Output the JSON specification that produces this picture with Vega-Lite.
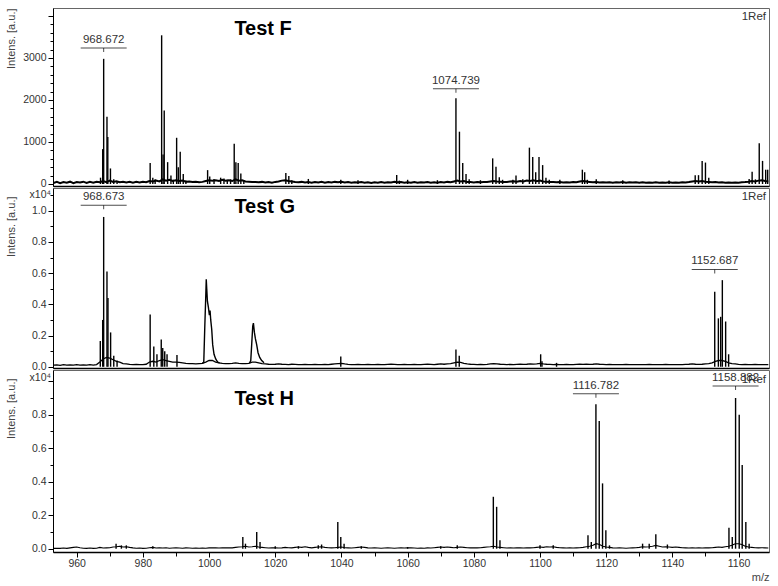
{
"$schema": "https://vega.github.io/schema/vega-lite/v6.json",
"background": "white",
"padding": {"left": 4, "top": 7, "right": 0, "bottom": 0},
"spacing": 2,
"bounds": "flush",
"config": {
  "font": "Liberation Sans",
  "view": {"stroke": "#666", "strokeWidth": 1},
  "axis": {"labelFont": "Liberation Sans", "labelFontSize": 10.5, "labelColor": "#333", "titleFont": "Liberation Sans", "titleFontSize": 11, "titleFontWeight": "normal", "titleColor": "#444", "domainColor": "#000", "tickColor": "#000", "grid": false, "labelOverlap": false}
},
"datasets": {
  "base": [
{"mz":953,"F":25,"G":0.010,"H":0.002},{"mz":954,"F":50,"G":0.012,"H":0.003},{"mz":955,"F":20,"G":0.009,"H":0.002},{"mz":956,"F":45,"G":0.013,"H":0.004},{"mz":957,"F":30,"G":0.010,"H":0.002},{"mz":958,"F":55,"G":0.012,"H":0.005},{"mz":959,"F":20,"G":0.011,"H":0.008},{"mz":960,"F":45,"G":0.013,"H":0.010},{"mz":961,"F":35,"G":0.010,"H":0.006},{"mz":962,"F":55,"G":0.012,"H":0.003},{"mz":963,"F":25,"G":0.011,"H":0.002},{"mz":964,"F":50,"G":0.013,"H":0.004},{"mz":965,"F":30,"G":0.010,"H":0.002},{"mz":966,"F":55,"G":0.014,"H":0.003},{"mz":967,"F":40,"G":0.030,"H":0.008},{"mz":968,"F":70,"G":0.050,"H":0.004},{"mz":969,"F":45,"G":0.060,"H":0.005},{"mz":970,"F":80,"G":0.055,"H":0.006},{"mz":971,"F":50,"G":0.045,"H":0.010},{"mz":972,"F":65,"G":0.035,"H":0.012},{"mz":973,"F":40,"G":0.030,"H":0.015},{"mz":974,"F":55,"G":0.020,"H":0.010},{"mz":975,"F":35,"G":0.018,"H":0.012},{"mz":976,"F":50,"G":0.015,"H":0.008},{"mz":977,"F":30,"G":0.014,"H":0.005},{"mz":978,"F":50,"G":0.015,"H":0.003},{"mz":979,"F":35,"G":0.013,"H":0.004},{"mz":980,"F":55,"G":0.014,"H":0.002},{"mz":981,"F":40,"G":0.016,"H":0.003},{"mz":982,"F":70,"G":0.030,"H":0.006},{"mz":983,"F":60,"G":0.035,"H":0.008},{"mz":984,"F":80,"G":0.030,"H":0.004},{"mz":985,"F":60,"G":0.040,"H":0.005},{"mz":986,"F":110,"G":0.045,"H":0.004},{"mz":987,"F":80,"G":0.040,"H":0.006},{"mz":988,"F":100,"G":0.035,"H":0.003},{"mz":989,"F":70,"G":0.030,"H":0.004},{"mz":990,"F":90,"G":0.030,"H":0.005},{"mz":991,"F":70,"G":0.028,"H":0.004},{"mz":992,"F":80,"G":0.025,"H":0.003},{"mz":993,"F":55,"G":0.022,"H":0.005},{"mz":994,"F":60,"G":0.020,"H":0.004},{"mz":995,"F":45,"G":0.020,"H":0.003},{"mz":996,"F":55,"G":0.018,"H":0.004},{"mz":997,"F":40,"G":0.020,"H":0.003},{"mz":998,"F":50,"G":0.022,"H":0.004},{"mz":999,"F":70,"G":0.030,"H":0.003},{"mz":1000,"F":90,"G":0.040,"H":0.005},{"mz":1001,"F":80,"G":0.040,"H":0.006},{"mz":1002,"F":90,"G":0.030,"H":0.005},{"mz":1003,"F":70,"G":0.025,"H":0.004},{"mz":1004,"F":100,"G":0.022,"H":0.006},{"mz":1005,"F":80,"G":0.020,"H":0.005},{"mz":1006,"F":90,"G":0.020,"H":0.006},{"mz":1007,"F":70,"G":0.022,"H":0.005},{"mz":1008,"F":110,"G":0.025,"H":0.008},{"mz":1009,"F":80,"G":0.022,"H":0.010},{"mz":1010,"F":90,"G":0.020,"H":0.012},{"mz":1011,"F":60,"G":0.020,"H":0.015},{"mz":1012,"F":55,"G":0.022,"H":0.010},{"mz":1013,"F":45,"G":0.030,"H":0.012},{"mz":1014,"F":50,"G":0.030,"H":0.015},{"mz":1015,"F":40,"G":0.025,"H":0.010},{"mz":1016,"F":50,"G":0.020,"H":0.008},{"mz":1017,"F":35,"G":0.018,"H":0.006},{"mz":1018,"F":45,"G":0.016,"H":0.004},{"mz":1019,"F":30,"G":0.015,"H":0.005},{"mz":1020,"F":50,"G":0.016,"H":0.006},{"mz":1021,"F":60,"G":0.018,"H":0.004},{"mz":1022,"F":80,"G":0.016,"H":0.005},{"mz":1023,"F":90,"G":0.015,"H":0.008},{"mz":1024,"F":70,"G":0.014,"H":0.006},{"mz":1025,"F":60,"G":0.016,"H":0.005},{"mz":1026,"F":45,"G":0.015,"H":0.008},{"mz":1027,"F":40,"G":0.014,"H":0.010},{"mz":1028,"F":50,"G":0.013,"H":0.008},{"mz":1029,"F":35,"G":0.015,"H":0.012},{"mz":1030,"F":45,"G":0.014,"H":0.008},{"mz":1031,"F":30,"G":0.013,"H":0.005},{"mz":1032,"F":45,"G":0.015,"H":0.008},{"mz":1033,"F":35,"G":0.014,"H":0.010},{"mz":1034,"F":50,"G":0.013,"H":0.012},{"mz":1035,"F":30,"G":0.015,"H":0.008},{"mz":1036,"F":45,"G":0.014,"H":0.006},{"mz":1037,"F":35,"G":0.016,"H":0.005},{"mz":1038,"F":50,"G":0.018,"H":0.006},{"mz":1039,"F":40,"G":0.020,"H":0.008},{"mz":1040,"F":55,"G":0.022,"H":0.010},{"mz":1041,"F":35,"G":0.018,"H":0.006},{"mz":1042,"F":45,"G":0.015,"H":0.005},{"mz":1043,"F":30,"G":0.014,"H":0.004},{"mz":1044,"F":40,"G":0.013,"H":0.006},{"mz":1045,"F":35,"G":0.015,"H":0.008},{"mz":1046,"F":45,"G":0.014,"H":0.010},{"mz":1047,"F":30,"G":0.013,"H":0.008},{"mz":1048,"F":40,"G":0.015,"H":0.005},{"mz":1049,"F":25,"G":0.014,"H":0.004},{"mz":1050,"F":40,"G":0.013,"H":0.005},{"mz":1051,"F":30,"G":0.015,"H":0.004},{"mz":1052,"F":45,"G":0.014,"H":0.003},{"mz":1053,"F":30,"G":0.013,"H":0.004},{"mz":1054,"F":40,"G":0.015,"H":0.005},{"mz":1055,"F":35,"G":0.016,"H":0.004},{"mz":1056,"F":50,"G":0.015,"H":0.003},{"mz":1057,"F":40,"G":0.014,"H":0.004},{"mz":1058,"F":45,"G":0.013,"H":0.005},{"mz":1059,"F":30,"G":0.015,"H":0.004},{"mz":1060,"F":40,"G":0.014,"H":0.006},{"mz":1061,"F":30,"G":0.013,"H":0.005},{"mz":1062,"F":45,"G":0.015,"H":0.004},{"mz":1063,"F":30,"G":0.014,"H":0.003},{"mz":1064,"F":40,"G":0.013,"H":0.004},{"mz":1065,"F":35,"G":0.015,"H":0.003},{"mz":1066,"F":45,"G":0.016,"H":0.005},{"mz":1067,"F":30,"G":0.015,"H":0.004},{"mz":1068,"F":40,"G":0.014,"H":0.006},{"mz":1069,"F":30,"G":0.016,"H":0.008},{"mz":1070,"F":45,"G":0.018,"H":0.010},{"mz":1071,"F":35,"G":0.016,"H":0.008},{"mz":1072,"F":50,"G":0.018,"H":0.010},{"mz":1073,"F":40,"G":0.020,"H":0.008},{"mz":1074,"F":60,"G":0.025,"H":0.006},{"mz":1075,"F":80,"G":0.030,"H":0.008},{"mz":1076,"F":60,"G":0.028,"H":0.010},{"mz":1077,"F":70,"G":0.022,"H":0.008},{"mz":1078,"F":50,"G":0.018,"H":0.006},{"mz":1079,"F":45,"G":0.016,"H":0.005},{"mz":1080,"F":35,"G":0.015,"H":0.006},{"mz":1081,"F":45,"G":0.014,"H":0.005},{"mz":1082,"F":40,"G":0.015,"H":0.006},{"mz":1083,"F":50,"G":0.014,"H":0.008},{"mz":1084,"F":45,"G":0.015,"H":0.010},{"mz":1085,"F":60,"G":0.018,"H":0.012},{"mz":1086,"F":70,"G":0.020,"H":0.015},{"mz":1087,"F":60,"G":0.018,"H":0.010},{"mz":1088,"F":55,"G":0.016,"H":0.008},{"mz":1089,"F":45,"G":0.015,"H":0.006},{"mz":1090,"F":50,"G":0.014,"H":0.004},{"mz":1091,"F":60,"G":0.015,"H":0.005},{"mz":1092,"F":65,"G":0.014,"H":0.004},{"mz":1093,"F":55,"G":0.015,"H":0.006},{"mz":1094,"F":70,"G":0.016,"H":0.005},{"mz":1095,"F":60,"G":0.015,"H":0.004},{"mz":1096,"F":80,"G":0.016,"H":0.006},{"mz":1097,"F":70,"G":0.018,"H":0.005},{"mz":1098,"F":90,"G":0.017,"H":0.006},{"mz":1099,"F":65,"G":0.019,"H":0.008},{"mz":1100,"F":80,"G":0.022,"H":0.010},{"mz":1101,"F":60,"G":0.018,"H":0.008},{"mz":1102,"F":55,"G":0.016,"H":0.012},{"mz":1103,"F":45,"G":0.015,"H":0.010},{"mz":1104,"F":50,"G":0.014,"H":0.012},{"mz":1105,"F":40,"G":0.015,"H":0.008},{"mz":1106,"F":45,"G":0.014,"H":0.006},{"mz":1107,"F":35,"G":0.013,"H":0.005},{"mz":1108,"F":40,"G":0.015,"H":0.004},{"mz":1109,"F":35,"G":0.014,"H":0.005},{"mz":1110,"F":45,"G":0.013,"H":0.004},{"mz":1111,"F":40,"G":0.015,"H":0.005},{"mz":1112,"F":60,"G":0.016,"H":0.006},{"mz":1113,"F":70,"G":0.015,"H":0.008},{"mz":1114,"F":60,"G":0.016,"H":0.012},{"mz":1115,"F":50,"G":0.015,"H":0.015},{"mz":1116,"F":40,"G":0.016,"H":0.020},{"mz":1117,"F":45,"G":0.018,"H":0.030},{"mz":1118,"F":35,"G":0.016,"H":0.025},{"mz":1119,"F":40,"G":0.015,"H":0.015},{"mz":1120,"F":35,"G":0.014,"H":0.010},{"mz":1121,"F":40,"G":0.015,"H":0.008},{"mz":1122,"F":30,"G":0.014,"H":0.005},{"mz":1123,"F":40,"G":0.013,"H":0.004},{"mz":1124,"F":35,"G":0.014,"H":0.005},{"mz":1125,"F":45,"G":0.013,"H":0.004},{"mz":1126,"F":30,"G":0.015,"H":0.003},{"mz":1127,"F":40,"G":0.014,"H":0.004},{"mz":1128,"F":35,"G":0.013,"H":0.005},{"mz":1129,"F":40,"G":0.014,"H":0.006},{"mz":1130,"F":30,"G":0.013,"H":0.008},{"mz":1131,"F":40,"G":0.014,"H":0.012},{"mz":1132,"F":30,"G":0.013,"H":0.010},{"mz":1133,"F":35,"G":0.015,"H":0.012},{"mz":1134,"F":30,"G":0.014,"H":0.015},{"mz":1135,"F":40,"G":0.013,"H":0.020},{"mz":1136,"F":30,"G":0.014,"H":0.015},{"mz":1137,"F":35,"G":0.013,"H":0.010},{"mz":1138,"F":30,"G":0.015,"H":0.012},{"mz":1139,"F":40,"G":0.014,"H":0.010},{"mz":1140,"F":30,"G":0.013,"H":0.008},{"mz":1141,"F":35,"G":0.014,"H":0.010},{"mz":1142,"F":30,"G":0.013,"H":0.008},{"mz":1143,"F":40,"G":0.014,"H":0.006},{"mz":1144,"F":35,"G":0.015,"H":0.005},{"mz":1145,"F":45,"G":0.016,"H":0.004},{"mz":1146,"F":60,"G":0.018,"H":0.005},{"mz":1147,"F":70,"G":0.016,"H":0.004},{"mz":1148,"F":60,"G":0.015,"H":0.005},{"mz":1149,"F":70,"G":0.016,"H":0.004},{"mz":1150,"F":55,"G":0.018,"H":0.006},{"mz":1151,"F":50,"G":0.020,"H":0.005},{"mz":1152,"F":40,"G":0.025,"H":0.006},{"mz":1153,"F":45,"G":0.035,"H":0.008},{"mz":1154,"F":35,"G":0.040,"H":0.010},{"mz":1155,"F":40,"G":0.040,"H":0.008},{"mz":1156,"F":30,"G":0.035,"H":0.012},{"mz":1157,"F":35,"G":0.025,"H":0.015},{"mz":1158,"F":30,"G":0.020,"H":0.020},{"mz":1159,"F":35,"G":0.018,"H":0.030},{"mz":1160,"F":30,"G":0.015,"H":0.030},{"mz":1161,"F":40,"G":0.014,"H":0.025},{"mz":1162,"F":45,"G":0.015,"H":0.015},{"mz":1163,"F":55,"G":0.014,"H":0.010},{"mz":1164,"F":70,"G":0.013,"H":0.008},{"mz":1165,"F":60,"G":0.015,"H":0.006},{"mz":1166,"F":80,"G":0.014,"H":0.005},{"mz":1167,"F":90,"G":0.013,"H":0.006},{"mz":1168,"F":70,"G":0.014,"H":0.005},{"mz":1169,"F":60,"G":0.013,"H":0.004}
  ],
  "broadG": [
{"g":"a","mz":998.0,"i":0.022},{"g":"a","mz":998.4,"i":0.03},{"g":"a","mz":998.7,"i":0.25},{"g":"a","mz":999.0,"i":0.45},{"g":"a","mz":999.15,"i":0.56},{"g":"a","mz":999.3,"i":0.5},{"g":"a","mz":999.5,"i":0.42},{"g":"a","mz":999.8,"i":0.38},{"g":"a","mz":1000.1,"i":0.33},{"g":"a","mz":1000.3,"i":0.36},{"g":"a","mz":1000.5,"i":0.3},{"g":"a","mz":1000.8,"i":0.24},{"g":"a","mz":1001.1,"i":0.14},{"g":"a","mz":1001.5,"i":0.08},{"g":"a","mz":1002.0,"i":0.05},{"g":"a","mz":1002.6,"i":0.03},{"g":"a","mz":1003.2,"i":0.025},
{"g":"b","mz":1012.2,"i":0.022},{"g":"b","mz":1012.6,"i":0.04},{"g":"b","mz":1012.9,"i":0.15},{"g":"b","mz":1013.2,"i":0.26},{"g":"b","mz":1013.4,"i":0.28},{"g":"b","mz":1013.7,"i":0.22},{"g":"b","mz":1014.0,"i":0.18},{"g":"b","mz":1014.4,"i":0.14},{"g":"b","mz":1014.8,"i":0.09},{"g":"b","mz":1015.3,"i":0.06},{"g":"b","mz":1015.9,"i":0.04},{"g":"b","mz":1016.6,"i":0.025}
  ],
  "peaks": [
{"p":"F","mz":967.2,"i":150},{"p":"F","mz":967.85,"i":830},{"p":"F","mz":968.15,"i":2980},{"p":"F","mz":969.15,"i":1600},{"p":"F","mz":969.4,"i":1120},{"p":"F","mz":970.2,"i":370},{"p":"F","mz":971.2,"i":110},{"p":"F","mz":972.2,"i":60},
{"p":"F","mz":982.2,"i":500},{"p":"F","mz":983.0,"i":150},{"p":"F","mz":983.7,"i":110},{"p":"F","mz":985.67,"i":3540},{"p":"F","mz":986.1,"i":700},{"p":"F","mz":986.45,"i":1750},{"p":"F","mz":987.48,"i":520},{"p":"F","mz":988.48,"i":200},{"p":"F","mz":989.2,"i":100},{"p":"F","mz":990.2,"i":1100},{"p":"F","mz":990.7,"i":400},{"p":"F","mz":991.28,"i":770},{"p":"F","mz":992.2,"i":240},{"p":"F","mz":993.0,"i":80},
{"p":"F","mz":999.56,"i":330},{"p":"F","mz":1000.2,"i":180},{"p":"F","mz":1001.5,"i":120},{"p":"F","mz":1003.5,"i":150},{"p":"F","mz":1004.5,"i":130},{"p":"F","mz":1005.5,"i":100},{"p":"F","mz":1006.5,"i":110},{"p":"F","mz":1007.6,"i":960},{"p":"F","mz":1008.1,"i":520},{"p":"F","mz":1008.8,"i":500},{"p":"F","mz":1009.6,"i":250},{"p":"F","mz":1010.5,"i":80},
{"p":"F","mz":1023.2,"i":260},{"p":"F","mz":1024.1,"i":190},{"p":"F","mz":1025.0,"i":90},{"p":"F","mz":1030.0,"i":120},{"p":"F","mz":1039.8,"i":100},{"p":"F","mz":1045.0,"i":90},{"p":"F","mz":1056.7,"i":215},{"p":"F","mz":1057.5,"i":80},{"p":"F","mz":1060.0,"i":100},{"p":"F","mz":1069.0,"i":90},
{"p":"F","mz":1074.6,"i":2040},{"p":"F","mz":1075.66,"i":1245},{"p":"F","mz":1076.65,"i":500},{"p":"F","mz":1077.65,"i":240},{"p":"F","mz":1078.6,"i":110},{"p":"F","mz":1082.0,"i":90},
{"p":"F","mz":1085.7,"i":610},{"p":"F","mz":1086.7,"i":410},{"p":"F","mz":1087.7,"i":160},{"p":"F","mz":1088.7,"i":100},{"p":"F","mz":1091.8,"i":100},{"p":"F","mz":1092.75,"i":200},{"p":"F","mz":1094.8,"i":110},
{"p":"F","mz":1096.8,"i":865},{"p":"F","mz":1097.8,"i":640},{"p":"F","mz":1098.7,"i":280},{"p":"F","mz":1099.7,"i":640},{"p":"F","mz":1100.8,"i":450},{"p":"F","mz":1101.8,"i":150},{"p":"F","mz":1102.8,"i":100},{"p":"F","mz":1106.0,"i":100},
{"p":"F","mz":1112.8,"i":340},{"p":"F","mz":1113.5,"i":280},{"p":"F","mz":1114.3,"i":100},{"p":"F","mz":1117.0,"i":110},{"p":"F","mz":1125.0,"i":90},{"p":"F","mz":1139.0,"i":80},
{"p":"F","mz":1146.9,"i":210},{"p":"F","mz":1147.9,"i":210},{"p":"F","mz":1149.0,"i":550},{"p":"F","mz":1150.0,"i":510},{"p":"F","mz":1151.0,"i":150},
{"p":"F","mz":1163.2,"i":120},{"p":"F","mz":1164.1,"i":290},{"p":"F","mz":1165.1,"i":110},{"p":"F","mz":1166.25,"i":970},{"p":"F","mz":1167.25,"i":550},{"p":"F","mz":1168.2,"i":340},{"p":"F","mz":1168.8,"i":340},
{"p":"G","mz":967.13,"i":0.165},{"p":"G","mz":967.85,"i":0.3},{"p":"G","mz":968.15,"i":0.96},{"p":"G","mz":969.15,"i":0.61},{"p":"G","mz":969.45,"i":0.44},{"p":"G","mz":970.25,"i":0.22},{"p":"G","mz":971.2,"i":0.07},{"p":"G","mz":972.2,"i":0.04},
{"p":"G","mz":982.2,"i":0.335},{"p":"G","mz":983.3,"i":0.13},{"p":"G","mz":984.25,"i":0.08},{"p":"G","mz":985.55,"i":0.175},{"p":"G","mz":986.0,"i":0.12},{"p":"G","mz":986.6,"i":0.1},{"p":"G","mz":987.3,"i":0.08},{"p":"G","mz":990.3,"i":0.075},
{"p":"G","mz":1039.8,"i":0.065},{"p":"G","mz":1074.6,"i":0.11},{"p":"G","mz":1075.6,"i":0.07},{"p":"G","mz":1100.2,"i":0.08},{"p":"G","mz":1100.6,"i":0.035},{"p":"G","mz":1105.0,"i":0.025},
{"p":"G","mz":1152.8,"i":0.48},{"p":"G","mz":1153.9,"i":0.31},{"p":"G","mz":1154.6,"i":0.32},{"p":"G","mz":1155.1,"i":0.555},{"p":"G","mz":1156.1,"i":0.29},{"p":"G","mz":1157.0,"i":0.08},
{"p":"H","mz":971.9,"i":0.03},{"p":"H","mz":973.5,"i":0.02},{"p":"H","mz":975.0,"i":0.02},{"p":"H","mz":983.0,"i":0.015},{"p":"H","mz":1010.2,"i":0.07},{"p":"H","mz":1011.0,"i":0.03},{"p":"H","mz":1014.4,"i":0.1},{"p":"H","mz":1015.4,"i":0.04},{"p":"H","mz":1020.0,"i":0.015},{"p":"H","mz":1027.0,"i":0.015},{"p":"H","mz":1033.0,"i":0.02},{"p":"H","mz":1034.0,"i":0.025},{"p":"H","mz":1038.9,"i":0.16},{"p":"H","mz":1039.8,"i":0.07},{"p":"H","mz":1040.8,"i":0.03},{"p":"H","mz":1046.0,"i":0.015},{"p":"H","mz":1060.0,"i":0.01},{"p":"H","mz":1070.0,"i":0.015},{"p":"H","mz":1075.0,"i":0.02},
{"p":"H","mz":1085.9,"i":0.31},{"p":"H","mz":1086.9,"i":0.25},{"p":"H","mz":1087.9,"i":0.05},{"p":"H","mz":1100.0,"i":0.02},{"p":"H","mz":1104.0,"i":0.02},
{"p":"H","mz":1114.5,"i":0.08},{"p":"H","mz":1115.5,"i":0.04},{"p":"H","mz":1116.9,"i":0.862},{"p":"H","mz":1117.9,"i":0.762},{"p":"H","mz":1118.9,"i":0.39},{"p":"H","mz":1119.9,"i":0.11},{"p":"H","mz":1121.0,"i":0.02},
{"p":"H","mz":1131.0,"i":0.03},{"p":"H","mz":1133.0,"i":0.03},{"p":"H","mz":1135.0,"i":0.086},{"p":"H","mz":1138.5,"i":0.025},
{"p":"H","mz":1157.1,"i":0.125},{"p":"H","mz":1158.1,"i":0.07},{"p":"H","mz":1159.1,"i":0.9},{"p":"H","mz":1160.2,"i":0.8},{"p":"H","mz":1161.1,"i":0.5},{"p":"H","mz":1162.2,"i":0.16},{"p":"H","mz":1163.2,"i":0.03}
  ],
  "labels": [
{"p":"F","mz":968.15,"t":"968.672","i":3238},
{"p":"F","mz":1074.6,"t":"1074.739","i":2269},
{"p":"G","mz":968.15,"t":"968.673","i":1.035},
{"p":"G","mz":1152.8,"t":"1152.687","i":0.624},
{"p":"H","mz":1116.9,"t":"1116.782","i":0.925},
{"p":"H","mz":1159.1,"t":"1158.882","i":0.971}
  ],
  "ann": [
{"p":"F","k":"title","mz":1007.65,"i":3690,"t":"Test F"},
{"p":"F","k":"ref","mz":1169.2,"i":4190,"t":"1Ref"},
{"p":"G","k":"title","mz":1007.65,"i":1.026,"t":"Test G"},
{"p":"G","k":"ref","mz":1169.2,"i":1.1455,"t":"1Ref"},
{"p":"G","k":"exp","mz":952.84,"i":1.1455,"t":"x10⁴"},
{"p":"H","k":"title","mz":1007.65,"i":0.894,"t":"Test H"},
{"p":"H","k":"ref","mz":1169.2,"i":1.067,"t":"1Ref"},
{"p":"H","k":"exp","mz":952.84,"i":1.067,"t":"x10⁴"}
  ]
},
"vconcat": [
{
  "width": 716, "height": 178,
  "encoding": {
    "x": {"field": "mz", "type": "quantitative", "scale": {"domain": [952.84, 1169.2], "nice": false, "zero": false}, "axis": {"labels": false, "ticks": false, "title": null, "domainColor": "#000", "domainWidth": 1.5}},
    "y": {"field": "i", "type": "quantitative", "scale": {"domain": [-48, 4190], "nice": false, "zero": false}, "axis": {"title": "Intens. [a.u.]", "values": [0,200,400,600,800,1000,1200,1400,1600,1800,2000,2200,2400,2600,2800,3000,3200,3400,3600,3800,4000], "format": "d", "labelExpr": "datum.value % 1000 === 0 && datum.value < 3500 ? datum.label : ''", "tickSize": {"condition": {"test": "datum.value % 1000 === 0", "value": 5}, "value": 3}, "labelPadding": 2, "titleAngle": 270, "titleAnchor": "end", "titleAlign": "right", "titleBaseline": "bottom", "titleX": -37, "titleY": 0}}
  },
  "layer": [
    {"data": {"name": "base"}, "transform": [{"fold": ["F"], "as": ["k", "i"]}], "mark": {"type": "line", "color": "#000", "strokeWidth": 2, "clip": true}},
    {"data": {"name": "peaks"}, "transform": [{"filter": "datum.p === 'F'"}], "mark": {"type": "rule", "color": "#000", "strokeWidth": 1.4, "clip": true}, "encoding": {"y2": {"datum": 0}}},
    {"data": {"name": "labels"}, "transform": [{"filter": "datum.p === 'F'"}], "mark": {"type": "tick", "orient": "horizontal", "size": 46, "thickness": 1, "color": "#000"}},
    {"data": {"name": "labels"}, "transform": [{"filter": "datum.p === 'F'"}], "mark": {"type": "tick", "orient": "vertical", "size": 4, "thickness": 1, "yOffset": 2, "color": "#000"}},
    {"data": {"name": "labels"}, "transform": [{"filter": "datum.p === 'F'"}], "mark": {"type": "text", "fontSize": 11.5, "dy": -8, "baseline": "middle", "color": "#333"}, "encoding": {"text": {"field": "t"}}},
    {"data": {"name": "ann"}, "transform": [{"filter": "datum.p === 'F' && datum.k === 'title'"}], "mark": {"type": "text", "fontSize": 20, "fontWeight": "bold", "align": "left", "baseline": "middle", "color": "#000"}, "encoding": {"text": {"field": "t"}}},
    {"data": {"name": "ann"}, "transform": [{"filter": "datum.p === 'F' && datum.k === 'ref'"}], "mark": {"type": "text", "fontSize": 11.5, "align": "right", "baseline": "middle", "dx": -3, "dy": 9, "color": "#333"}, "encoding": {"text": {"field": "t"}}}
  ]
},
{
  "width": 716, "height": 180,
  "encoding": {
    "x": {"field": "mz", "type": "quantitative", "scale": {"domain": [952.84, 1169.2], "nice": false, "zero": false}, "axis": {"labels": false, "ticks": false, "title": null, "domainColor": "#000", "domainWidth": 1.5}},
    "y": {"field": "i", "type": "quantitative", "scale": {"domain": [-0.008, 1.1455], "nice": false, "zero": false}, "axis": {"title": "Intens. [a.u.]", "values": [0,0.1,0.2,0.3,0.4,0.5,0.6,0.7,0.8,0.9,1.0,1.1], "labelExpr": "round(datum.value*10) % 2 === 0 ? format(datum.value, '.1f') : ''", "tickSize": {"condition": {"test": "round(datum.value*10) % 2 === 0", "value": 5}, "value": 3}, "labelPadding": 2, "titleAngle": 270, "titleAnchor": "end", "titleAlign": "right", "titleBaseline": "bottom", "titleX": -37, "titleY": 8}}
  },
  "layer": [
    {"data": {"name": "base"}, "transform": [{"fold": ["G"], "as": ["k", "i"]}], "mark": {"type": "line", "color": "#000", "strokeWidth": 1.3, "clip": true}},
    {"data": {"name": "broadG"}, "mark": {"type": "line", "color": "#000", "strokeWidth": 1.4, "clip": true}, "encoding": {"detail": {"field": "g"}}},
    {"data": {"name": "peaks"}, "transform": [{"filter": "datum.p === 'G'"}], "mark": {"type": "rule", "color": "#000", "strokeWidth": 1.4, "clip": true}, "encoding": {"y2": {"datum": 0}}},
    {"data": {"name": "labels"}, "transform": [{"filter": "datum.p === 'G'"}], "mark": {"type": "tick", "orient": "horizontal", "size": 46, "thickness": 1, "color": "#000"}},
    {"data": {"name": "labels"}, "transform": [{"filter": "datum.p === 'G'"}], "mark": {"type": "tick", "orient": "vertical", "size": 4, "thickness": 1, "yOffset": 2, "color": "#000"}},
    {"data": {"name": "labels"}, "transform": [{"filter": "datum.p === 'G'"}], "mark": {"type": "text", "fontSize": 11.5, "dy": -8, "baseline": "middle", "color": "#333"}, "encoding": {"text": {"field": "t"}}},
    {"data": {"name": "ann"}, "transform": [{"filter": "datum.p === 'G' && datum.k === 'title'"}], "mark": {"type": "text", "fontSize": 20, "fontWeight": "bold", "align": "left", "baseline": "middle", "color": "#000"}, "encoding": {"text": {"field": "t"}}},
    {"data": {"name": "ann"}, "transform": [{"filter": "datum.p === 'G' && datum.k === 'ref'"}], "mark": {"type": "text", "fontSize": 11.5, "align": "right", "baseline": "middle", "dx": -3, "dy": 9, "color": "#333"}, "encoding": {"text": {"field": "t"}}},
    {"data": {"name": "ann"}, "transform": [{"filter": "datum.p === 'G' && datum.k === 'exp'"}], "mark": {"type": "text", "fontSize": 10.5, "align": "right", "baseline": "middle", "dx": -2, "dy": 7, "color": "#333"}, "encoding": {"text": {"field": "t"}}}
  ]
},
{
  "width": 716, "height": 182,
  "encoding": {
    "x": {"field": "mz", "type": "quantitative", "scale": {"domain": [952.84, 1169.2], "nice": false, "zero": false}, "axis": {"title": "m/z", "values": [960,970,980,990,1000,1010,1020,1030,1040,1050,1060,1070,1080,1090,1100,1110,1120,1130,1140,1150,1160], "format": "d", "labelExpr": "datum.value % 20 === 0 ? datum.label : ''", "tickSize": {"condition": {"test": "datum.value % 20 === 0", "value": 5}, "value": 4}, "labelPadding": 1, "titleAnchor": "end", "titlePadding": 3, "domainColor": "#000", "domainWidth": 1.5}},
    "y": {"field": "i", "type": "quantitative", "scale": {"domain": [-0.0197, 1.067], "nice": false, "zero": false}, "axis": {"title": "Intens. [a.u.]", "values": [0,0.1,0.2,0.3,0.4,0.5,0.6,0.7,0.8,0.9,1.0], "labelExpr": "round(datum.value*10) % 2 === 0 && datum.value < 0.95 ? format(datum.value, '.1f') : ''", "tickSize": {"condition": {"test": "round(datum.value*10) % 2 === 0", "value": 5}, "value": 3}, "labelPadding": 2, "titleAngle": 270, "titleAnchor": "end", "titleAlign": "right", "titleBaseline": "bottom", "titleX": -37, "titleY": 8}}
  },
  "layer": [
    {"data": {"name": "base"}, "transform": [{"fold": ["H"], "as": ["k", "i"]}], "mark": {"type": "line", "color": "#000", "strokeWidth": 1.1, "clip": true}},
    {"data": {"name": "peaks"}, "transform": [{"filter": "datum.p === 'H'"}], "mark": {"type": "rule", "color": "#000", "strokeWidth": 1.4, "clip": true}, "encoding": {"y2": {"datum": 0}}},
    {"data": {"name": "labels"}, "transform": [{"filter": "datum.p === 'H'"}], "mark": {"type": "tick", "orient": "horizontal", "size": 46, "thickness": 1, "color": "#000"}},
    {"data": {"name": "labels"}, "transform": [{"filter": "datum.p === 'H'"}], "mark": {"type": "tick", "orient": "vertical", "size": 4, "thickness": 1, "yOffset": 2, "color": "#000"}},
    {"data": {"name": "labels"}, "transform": [{"filter": "datum.p === 'H'"}], "mark": {"type": "text", "fontSize": 11.5, "dy": -8, "baseline": "middle", "color": "#333"}, "encoding": {"text": {"field": "t"}}},
    {"data": {"name": "ann"}, "transform": [{"filter": "datum.p === 'H' && datum.k === 'title'"}], "mark": {"type": "text", "fontSize": 20, "fontWeight": "bold", "align": "left", "baseline": "middle", "color": "#000"}, "encoding": {"text": {"field": "t"}}},
    {"data": {"name": "ann"}, "transform": [{"filter": "datum.p === 'H' && datum.k === 'ref'"}], "mark": {"type": "text", "fontSize": 11.5, "align": "right", "baseline": "middle", "dx": -3, "dy": 10, "color": "#333"}, "encoding": {"text": {"field": "t"}}},
    {"data": {"name": "ann"}, "transform": [{"filter": "datum.p === 'H' && datum.k === 'exp'"}], "mark": {"type": "text", "fontSize": 10.5, "align": "right", "baseline": "middle", "dx": -2, "dy": 8, "color": "#333"}, "encoding": {"text": {"field": "t"}}}
  ]
}
]
}
